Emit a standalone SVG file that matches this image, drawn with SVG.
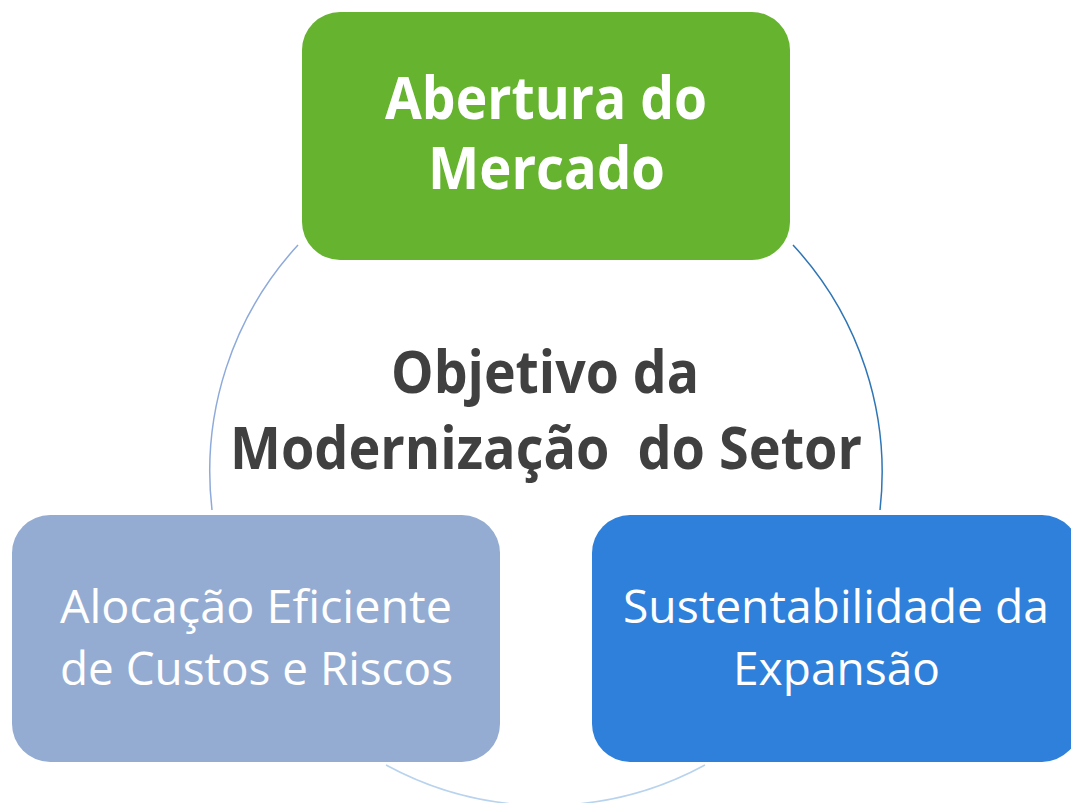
<svg xmlns="http://www.w3.org/2000/svg" width="1071" height="803" viewBox="0 0 1071 803">
<style>
.box{stroke:none}
.t{font-family:"Open Sans","Noto Sans","Liberation Sans",sans-serif;fill:#ffffff;text-anchor:middle;white-space:pre}
.b{font-weight:bold;font-size:59px}
.r{font-weight:normal;font-size:46px}
.c{fill:#404040}
.arc{fill:none;stroke-width:1.5}
</style>
<rect width="1071" height="803" fill="#ffffff"/>
<g id="connectors">
<path class="arc" d="M298,245 A334.5,334.5 0 0 0 212,510" stroke="#8eaadb"/>
<path class="arc" d="M793,245 A334.5,334.5 0 0 1 880,510" stroke="#2e75b6"/>
<path class="arc" d="M386,765 A334.5,334.5 0 0 0 705,765" stroke="#b8d3ee" stroke-width="2"/>
</g>
<g id="center">
<text class="t b c" x="545" y="393" textLength="308" lengthAdjust="spacingAndGlyphs">Objetivo da</text>
<text class="t b c" x="546" y="469" textLength="632" lengthAdjust="spacingAndGlyphs">Modernização  do Setor</text>
</g>
<g id="node-abertura">
<rect class="box" x="302" y="12" width="488" height="248" rx="38" fill="#66b32f"/>
<text class="t b" x="546" y="119" textLength="322" lengthAdjust="spacingAndGlyphs">Abertura do</text>
<text class="t b" x="546.5" y="189" textLength="237" lengthAdjust="spacingAndGlyphs">Mercado</text>
</g>
<g id="node-alocacao">
<rect class="box" x="12" y="515" width="488" height="247" rx="38" fill="#94acd2"/>
<text class="t r" x="256" y="623" textLength="392" lengthAdjust="spacingAndGlyphs">Alocação Eficiente</text>
<text class="t r" x="256.5" y="685" textLength="393" lengthAdjust="spacingAndGlyphs">de Custos e Riscos</text>
</g>
<g id="node-sustentabilidade">
<rect class="box" x="592" y="515" width="488" height="247" rx="38" fill="#2f80da"/>
<text class="t r" x="836" y="623" textLength="426" lengthAdjust="spacingAndGlyphs">Sustentabilidade da</text>
<text class="t r" x="836.5" y="685" textLength="207" lengthAdjust="spacingAndGlyphs">Expansão</text>
</g>
</svg>
